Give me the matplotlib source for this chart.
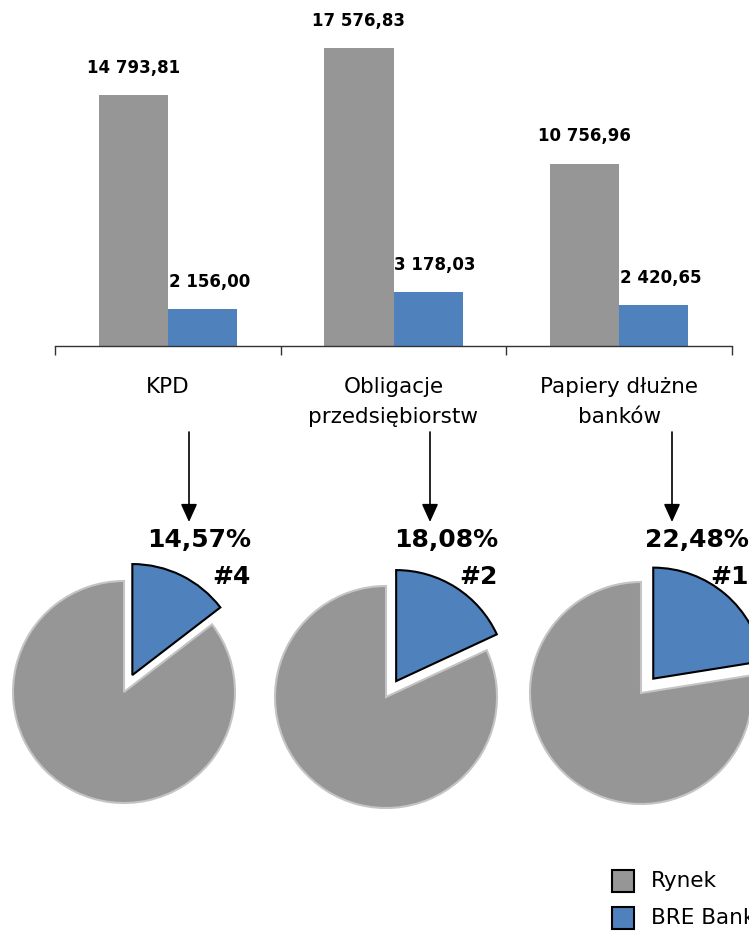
import numpy as np
import matplotlib
matplotlib.use("Agg")
import matplotlib.pyplot as plt
from matplotlib.patches import FancyArrowPatch, Rectangle, ArrowStyle

plt.rcParams['font.family'] = ['DejaVu Sans']

# --- data -------------------------------------------------------------
categories = ["KPD", "Obligacje\nprzedsiębiorstw", "Papiery dłużne\nbanków"]
market = [14793.81, 17576.83, 10756.96]
bre_bank = [2156.00, 3178.03, 2420.65]
share_pct = [14.57, 18.08, 22.48]
ranks = ["#4", "#2", "#1"]
series_names = ["Rynek", "BRE Bank"]

GRAY = "#969696"
BLUE = "#4F81BD"

W, H = 749, 931
fig = plt.figure(figsize=(W / 100, H / 100), dpi=100)


def fx(x):
    return x / W


def fy(y):
    return 1 - y / H


def fmt(v):
    s = f"{v:,.2f}"
    return s.replace(",", " ").replace(".", ",")


# --- bar chart --------------------------------------------------------
ax = fig.add_axes([fx(55), fy(346), 677 / W, 346 / H])
x = np.arange(len(categories))
bw = 0.306
ax.bar(x - bw / 2, market, width=bw, color=GRAY, linewidth=0)
ax.bar(x + bw / 2, bre_bank, width=bw, color=BLUE, linewidth=0)
ax.set_xlim(-0.5, 2.5)
ax.set_ylim(0, 20400)
for s in ("left", "top", "right"):
    ax.spines[s].set_visible(False)
ax.spines["bottom"].set_color("#333333")
ax.spines["bottom"].set_linewidth(1.0)
ax.set_yticks([])
ax.set_xticks([-0.5, 0.5, 1.5, 2.5])
ax.set_xticklabels([])
ax.tick_params(axis="x", which="major", length=6.5, width=1.0,
               color="#333333", direction="out")
ax.set_xticks(x, minor=True)
ax.set_xticklabels(categories, minor=True, fontsize=15.5,
                   linespacing=1.68)
ax.tick_params(axis="x", which="minor", length=0, pad=22)

for xi, v in zip(x - bw / 2, market):
    ax.annotate(fmt(v), (xi, v), xytext=(0, 19.5), textcoords="offset points",
                ha="center", va="center", fontsize=12, fontweight="bold")
for xi, v in zip(x + bw / 2, bre_bank):
    ax.annotate(fmt(v), (xi, v), xytext=(5, 19.5), textcoords="offset points",
                ha="center", va="center", fontsize=12, fontweight="bold")

# --- arrows from categories to pies ----------------------------------
arrow_x = [189, 430, 672]
for axp in arrow_x:
    fig.add_artist(FancyArrowPatch(
        (fx(axp), fy(432)), (fx(axp), fy(522)),
        transform=fig.transFigure,
        arrowstyle=ArrowStyle("-|>", head_length=1.1, head_width=0.5),
        mutation_scale=10, shrinkA=0, shrinkB=0,
        color="black", linewidth=1.2))

# --- pies -------------------------------------------------------------
pie_centers = [(124, 692), (386, 697), (641, 693)]
R = 111
k = 1.45
label_right = [251, 498, 749]
for (cx, cy), pct, rk, lr in zip(pie_centers, share_pct, ranks, label_right):
    half = R * k
    pax = fig.add_axes([fx(cx - half), fy(cy + half), 2 * half / W, 2 * half / H])
    wedges, _ = pax.pie([pct, 100 - pct], startangle=90, counterclock=False,
                        colors=[BLUE, GRAY], explode=[0.17, 0],
                        wedgeprops=dict(linewidth=1.5))
    wedges[0].set_edgecolor("black")
    wedges[1].set_edgecolor("#c4c4c4")
    for w_ in wedges:
        w_.set_clip_on(False)
    pax.set_xlim(-k, k)
    pax.set_ylim(-k, k)
    pax.set_aspect("equal")
    pax.axis("off")
    fig.text(fx(lr), fy(540), f"{pct:.2f}%".replace(".", ","),
             ha="right", va="center", fontsize=18, fontweight="bold")
    fig.text(fx(lr), fy(577), rk, ha="right", va="center",
             fontsize=18, fontweight="bold")

# --- legend -----------------------------------------------------------
for (name, col), y in zip(zip(series_names, [GRAY, BLUE]), [881, 918]):
    fig.add_artist(Rectangle((fx(612), fy(y + 11)), 22 / W, 22 / H,
                             transform=fig.transFigure, facecolor=col,
                             edgecolor="black", linewidth=1.5))
    fig.text(fx(651), fy(y), name, ha="left", va="center", fontsize=15.5)

fig.savefig("out.png", dpi=100)
